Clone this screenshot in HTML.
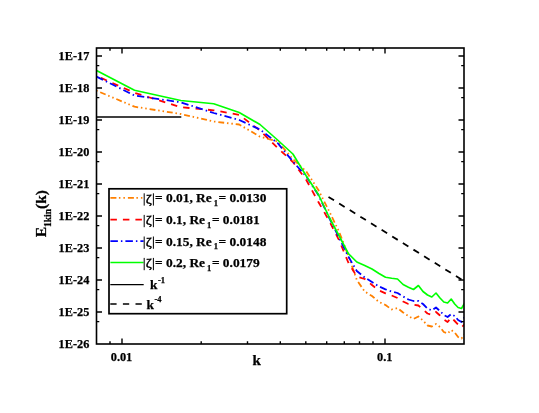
<!DOCTYPE html><html><head><meta charset="utf-8"><style>html,body{margin:0;padding:0;background:#fff}svg{display:block;will-change:transform}</style></head><body><svg width="539" height="413" viewBox="0 0 539 413">
<rect width="539" height="413" fill="#fff"/>
<defs><clipPath id="c"><rect x="96.5" y="48.0" width="367.5" height="296.0"/></clipPath></defs>
<g clip-path="url(#c)" fill="none" stroke-linejoin="round">
<path d="M96.5,117 L181.3,117" stroke="#000" stroke-width="1.6"/>
<path d="M328.5,196.9 L464,281" stroke="#000" stroke-width="1.8" stroke-dasharray="6.5 6"/>
<path d="M96.5,90.7 L134.5,106.7 L180.8,114.0 L213.7,121.5 L239.2,124.5 L260.0,136.7 L277.6,141.5 L292.9,159.0 L306.3,171.5 L318.4,190.0 L329.3,211.5 L339.2,232.0 L348.3,255.5 L356.8,280.0 L364.7,291.5 L372.0,296.0 L379.0,302.0 L385.5,305.0 L391.7,309.5 L397.5,308.0 L403.1,312.5 L408.4,316.0 L413.5,319.0 L418.4,316.5 L423.0,320.5 L427.5,325.5 L431.8,326.5 L436.0,324.0 L440.0,327.0 L443.8,332.0 L447.6,333.5 L451.2,330.0 L454.7,332.5 L458.1,337.0 L461.5,338.5 L464.7,334.0" stroke="#ff8000" stroke-width="1.8" stroke-dasharray="5.9 2.8 1.5 2.9 1.5 2.9" stroke-dashoffset="13.5"/>
<path d="M96.5,75.9 L134.5,92.8 L180.8,107.2 L213.7,110.3 L239.2,114.8 L260.0,130.5 L277.6,148.0 L292.9,162.0 L306.3,180.0 L318.4,202.0 L329.3,221.0 L339.2,240.5 L348.3,262.5 L356.8,276.5 L364.7,279.0 L372.0,285.0 L379.0,290.5 L385.5,293.3 L391.7,295.5 L397.5,298.0 L403.1,301.5 L408.4,304.0 L413.5,304.7 L418.4,305.5 L423.0,309.5 L427.5,313.5 L431.8,315.0 L436.0,312.0 L440.0,315.5 L443.8,319.5 L447.6,322.0 L451.2,317.5 L454.7,321.0 L458.1,324.5 L461.5,327.5 L464.7,324.0" stroke="#ff0000" stroke-width="1.8" stroke-dasharray="6.4 6.1" stroke-dashoffset="7.6"/>
<path d="M96.5,76.6 L134.5,95.5 L180.8,102.3 L213.7,113.0 L239.2,120.0 L260.0,129.5 L277.6,143.0 L292.9,161.5 L306.3,176.5 L318.4,195.0 L329.3,218.0 L339.2,238.0 L348.3,256.5 L356.8,271.0 L364.7,277.5 L372.0,282.0 L379.0,286.5 L385.5,289.3 L391.7,291.5 L397.5,293.0 L403.1,296.5 L408.4,299.5 L413.5,301.0 L418.4,301.0 L423.0,304.0 L427.5,308.5 L431.8,310.5 L436.0,307.5 L440.0,311.0 L443.8,315.0 L447.6,317.0 L451.2,314.0 L454.7,316.0 L458.1,320.0 L461.5,322.0 L464.7,317.0" stroke="#0000ff" stroke-width="1.8" stroke-dasharray="7.3 3.1 1.5 3.1" stroke-dashoffset="0.0"/>
<path d="M96.5,70.4 L134.5,90.3 L180.8,100.5 L213.7,103.7 L239.2,112.5 L260.0,124.5 L277.6,140.0 L292.9,154.0 L306.3,176.0 L318.4,194.5 L329.3,217.5 L339.2,236.0 L348.3,253.5 L356.8,262.0 L364.7,265.5 L372.0,269.0 L379.0,273.5 L385.5,277.3 L391.7,278.3 L397.5,279.0 L403.1,284.5 L408.4,287.2 L413.5,289.5 L418.4,285.5 L423.0,291.5 L427.5,295.0 L431.8,297.0 L436.0,293.0 L440.0,298.0 L443.8,302.0 L447.6,303.0 L451.2,299.0 L454.7,304.0 L458.1,307.5 L461.5,308.5 L464.7,303.0" stroke="#00ff00" stroke-width="1.65"/>
</g>
<rect x="96.5" y="48.0" width="367.5" height="296.0" fill="none" stroke="#000" stroke-width="1.6"/>
<path d="M96.5,321.6 h2.8 M464.0,321.6 h-2.8 M96.5,312.0 h5.5 M464.0,312.0 h-5.5 M96.5,289.6 h2.8 M464.0,289.6 h-2.8 M96.5,280.0 h5.5 M464.0,280.0 h-5.5 M96.5,257.6 h2.8 M464.0,257.6 h-2.8 M96.5,248.0 h5.5 M464.0,248.0 h-5.5 M96.5,225.6 h2.8 M464.0,225.6 h-2.8 M96.5,216.0 h5.5 M464.0,216.0 h-5.5 M96.5,193.6 h2.8 M464.0,193.6 h-2.8 M96.5,184.0 h5.5 M464.0,184.0 h-5.5 M96.5,161.6 h2.8 M464.0,161.6 h-2.8 M96.5,152.0 h5.5 M464.0,152.0 h-5.5 M96.5,129.6 h2.8 M464.0,129.6 h-2.8 M96.5,120.0 h5.5 M464.0,120.0 h-5.5 M96.5,97.6 h2.8 M464.0,97.6 h-2.8 M96.5,88.0 h5.5 M464.0,88.0 h-5.5 M96.5,65.6 h2.8 M464.0,65.6 h-2.8 M96.5,56.0 h5.5 M464.0,56.0 h-5.5 M110.0,48.0 v2.8 M110.0,344.0 v-2.8 M122.0,48.0 v5.5 M122.0,344.0 v-5.5 M201.2,48.0 v2.8 M201.2,344.0 v-2.8 M247.5,48.0 v2.8 M247.5,344.0 v-2.8 M280.3,48.0 v2.8 M280.3,344.0 v-2.8 M305.8,48.0 v2.8 M305.8,344.0 v-2.8 M326.7,48.0 v2.8 M326.7,344.0 v-2.8 M344.3,48.0 v2.8 M344.3,344.0 v-2.8 M359.5,48.0 v2.8 M359.5,344.0 v-2.8 M373.0,48.0 v2.8 M373.0,344.0 v-2.8 M385.0,48.0 v5.5 M385.0,344.0 v-5.5" stroke="#000" stroke-width="1.4" fill="none"/>
<g font-family="Liberation Serif, serif" font-weight="bold" font-size="12.3px" fill="#000" stroke="#000" stroke-width="0.25">
<text x="89.3" y="348.1" text-anchor="end">1E-26</text>
<text x="89.3" y="316.1" text-anchor="end">1E-25</text>
<text x="89.3" y="284.1" text-anchor="end">1E-24</text>
<text x="89.3" y="252.1" text-anchor="end">1E-23</text>
<text x="89.3" y="220.1" text-anchor="end">1E-22</text>
<text x="89.3" y="188.1" text-anchor="end">1E-21</text>
<text x="89.3" y="156.1" text-anchor="end">1E-20</text>
<text x="89.3" y="124.1" text-anchor="end">1E-19</text>
<text x="89.3" y="92.1" text-anchor="end">1E-18</text>
<text x="89.3" y="60.1" text-anchor="end">1E-17</text>
<text x="121.5" y="360.6" text-anchor="middle">0.01</text>
<text x="384.8" y="360.6" text-anchor="middle">0.1</text>
</g>
<g font-family="Liberation Serif, serif" font-weight="bold" fill="#000" stroke="#000" stroke-width="0.25">
<text x="252.6" y="365" font-size="15px">k</text>
<text transform="translate(46.2,237.3) rotate(-90)" font-size="15.5px">E<tspan font-size="9.5px" dy="4.5">1kin</tspan><tspan dy="-4.5">(k)</tspan></text>
</g>
<rect x="109" y="188.8" width="177.7" height="124.9" fill="#fff" stroke="#000" stroke-width="1.7"/>
<g fill="none" stroke-width="1.7">
<path d="M110.4,197.9 H143.6" stroke="#ff8000" stroke-dasharray="6 2.5 1.5 3 1.5 3"/>
<path d="M110.4,219.7 H143.6" stroke="#ff0000" stroke-dasharray="6.5 6"/>
<path d="M110.4,241.2 H143.6" stroke="#0000ff" stroke-dasharray="7.5 3 1.5 3"/>
<path d="M110.4,262.5 H143.6" stroke="#00ff00"/>
</g><g fill="none" stroke-width="1.3">
<path d="M110.3,284.7 H143.7" stroke="#000"/>
<path d="M110.3,304 H143.7" stroke="#000" stroke-dasharray="6.3 6.3"/>
</g>
<g font-family="Liberation Serif, serif" font-weight="bold" font-size="13.4px" fill="#000" stroke="#000" stroke-width="0.25">
<path d="M144.2,193.3 v12.3 M153.4,193.3 v12.3" stroke="#000" stroke-width="1" fill="none"/>
<text x="145.7" y="202.7" font-weight="normal" font-size="13.3px" textLength="6.1" lengthAdjust="spacingAndGlyphs" stroke-width="0.4">ζ</text>
<text x="155" y="202.3">= 0.01, Re<tspan font-size="8.5px" dy="3.8" dx="2">1</tspan><tspan dy="-3.8" dx="0.6">= 0.0130</tspan></text>
<path d="M144.2,214.9 v12.3 M153.4,214.9 v12.3" stroke="#000" stroke-width="1" fill="none"/>
<text x="145.7" y="224.3" font-weight="normal" font-size="13.3px" textLength="6.1" lengthAdjust="spacingAndGlyphs" stroke-width="0.4">ζ</text>
<text x="155" y="223.9">= 0.1, Re<tspan font-size="8.5px" dy="3.8" dx="2">1</tspan><tspan dy="-3.8" dx="0.6">= 0.0181</tspan></text>
<path d="M144.2,236.5 v12.3 M153.4,236.5 v12.3" stroke="#000" stroke-width="1" fill="none"/>
<text x="145.7" y="245.9" font-weight="normal" font-size="13.3px" textLength="6.1" lengthAdjust="spacingAndGlyphs" stroke-width="0.4">ζ</text>
<text x="155" y="245.5">= 0.15, Re<tspan font-size="8.5px" dy="3.8" dx="2">1</tspan><tspan dy="-3.8" dx="0.6">= 0.0148</tspan></text>
<path d="M144.2,257.9 v12.3 M153.4,257.9 v12.3" stroke="#000" stroke-width="1" fill="none"/>
<text x="145.7" y="267.3" font-weight="normal" font-size="13.3px" textLength="6.1" lengthAdjust="spacingAndGlyphs" stroke-width="0.4">ζ</text>
<text x="155" y="266.9">= 0.2, Re<tspan font-size="8.5px" dy="3.8" dx="2">1</tspan><tspan dy="-3.8" dx="0.6">= 0.0179</tspan></text>
<text x="150" y="289">k<tspan font-size="8.5px" dy="-6.2" dx="0.5">-1</tspan></text>
<text x="146.5" y="308.6">k<tspan font-size="8.5px" dy="-6.2" dx="0.5">-4</tspan></text>
</g>
</svg></body></html>
